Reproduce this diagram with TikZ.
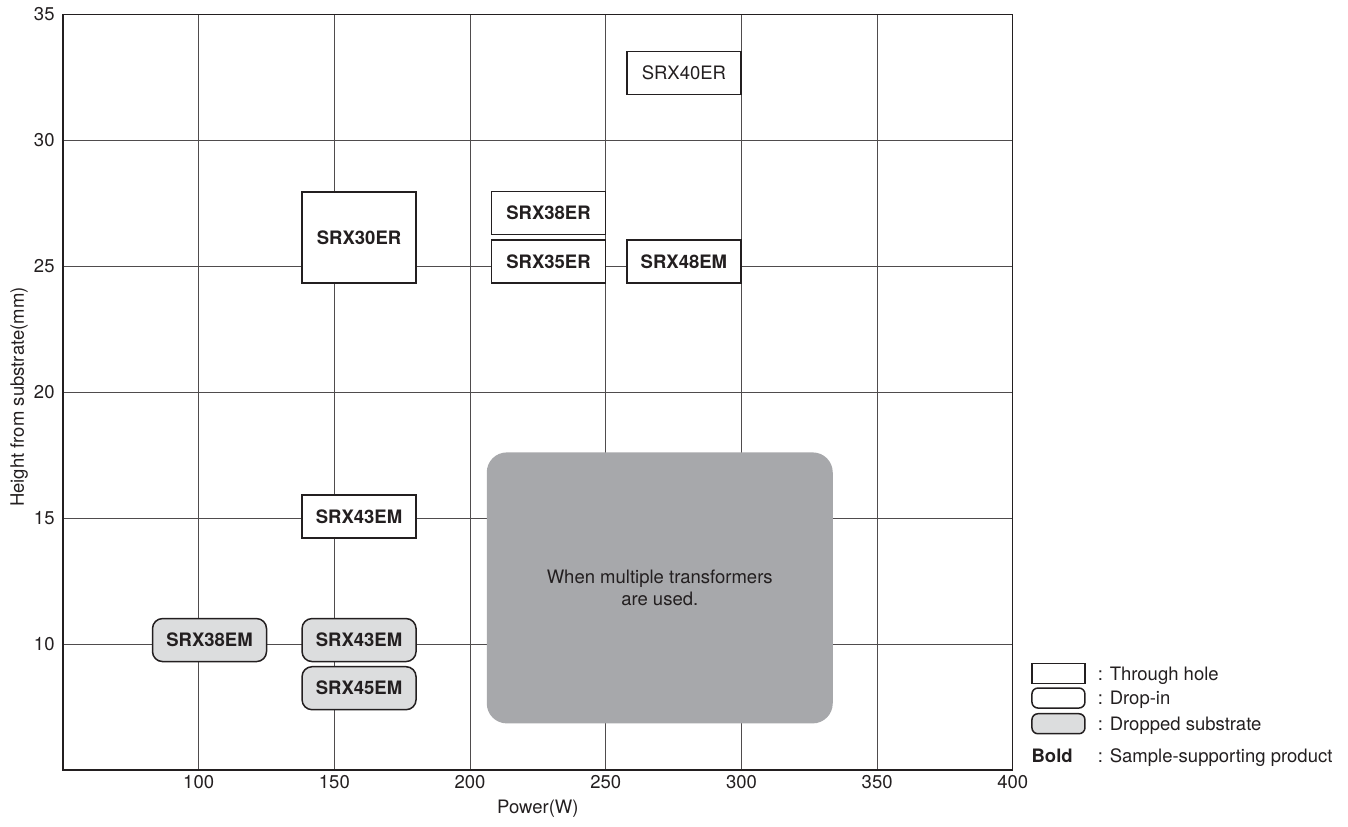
\documentclass[tikz,border=0pt]{standalone}
\usepackage{fontspec}
\setmainfont{TeX Gyre Heros}
\usetikzlibrary{positioning}

\definecolor{inkgray}{HTML}{231F20}
\definecolor{boxgray}{HTML}{DCDDDE}
\definecolor{biggray}{HTML}{A7A8AB}
\newcommand\chartfont{\fontsize{9.25}{11.3}\selectfont}

\tikzset{
  through/.style={draw=inkgray, fill=white, line width=0.75pt, inner sep=0pt,
    minimum width=57pt, minimum height=21.5pt, font=\chartfont\bfseries},
  dropin/.style={through, rounded corners=5pt},
  dropped/.style={dropin, fill=boxgray},
  legbox/.style={minimum width=26.5pt, minimum height=10pt, rounded corners=3pt},
  gridline/.style={draw=inkgray!80, line width=0.5pt},
  legtext/.style={inner sep=0pt, text height=6.5pt, text depth=0pt}
}

\begin{document}
\begin{tikzpicture}[x=1.357pt, y=12.6pt, font=\chartfont, text=inkgray]
  \useasboundingbox (26.8,2.78) rectangle (523.5,35.56);

  % grid and frame
  \foreach \x in {100,150,...,350}
    \draw[gridline] (\x,5) -- (\x,35);
  \foreach \y in {10,15,...,30}
    \draw[gridline] (50,\y) -- (400,\y);
  \draw[inkgray, line width=0.6pt] (50,5) rectangle (400,35);

  % ticks
  \foreach \x in {100,150,...,400}
    \node[anchor=base, inner sep=0pt] (xt\x) at ([yshift=-9.25pt]\x,5) {\x};
  \foreach \y in {10,15,...,35}
    \node[anchor=east, inner sep=0pt] (yt\y) at ([xshift=-4pt]50,\y) {\y};
  \node[anchor=base, inner sep=0pt] (xlabel) at ([yshift=-21.75pt]225,5) {Power(W)};
  \node[anchor=base, rotate=90, inner sep=0pt] (ylabel) at ([xshift=-19.5pt]50,19.8) {Height from substrate(mm)};

  % products
  \node[through, minimum height=45.5pt] (er30) at (159.1,26.13) {SRX30ER};
  \node[through] (er38) at (228.9,27.10) {SRX38ER};
  \node[through] (er35) at (228.9,25.18) {SRX35ER};
  \node[through] (em48) at (278.8,25.18) {SRX48EM};
  \node[through, font=\chartfont] (er40) at (278.8,32.66) {SRX40ER};
  \node[through] (em43a) at (159.1,15.06) {SRX43EM};
  \node[dropped] (em38) at (104.0,10.16) {SRX38EM};
  \node[dropped] (em43b) at (159.1,10.16) {SRX43EM};
  \node[dropped] (em45) at (159.1,8.25) {SRX45EM};

  \node[fill=biggray, rounded corners=10pt, minimum width=173pt, minimum height=135.5pt,
    align=center] (multi) at (269.9,12.23) {When multiple transformers\\are used.};

  % legend
  \node[through, legbox, rounded corners=0pt] (lgth) at (416.8,8.83) {};
  \node[dropin, legbox] (lgdi) at (416.8,7.86) {};
  \node[dropped, legbox] (lgds) at (416.8,6.84) {};
  \node[legtext, right=5.85pt of lgth] (lgthtxt) {: Through hole};
  \node[legtext, right=5.85pt of lgdi] (lgditxt) {: Drop-in};
  \node[legtext, right=5.85pt of lgds] (lgdstxt) {: Dropped substrate};
  \node[legtext, anchor=west, font=\chartfont\bfseries] (lgbold) at (lgds.west |- 0,5.57) {Bold};
  \node[legtext, anchor=west] (lgsptxt) at (lgdstxt.west |- lgbold) {: Sample-supporting product};
\end{tikzpicture}
\end{document}
